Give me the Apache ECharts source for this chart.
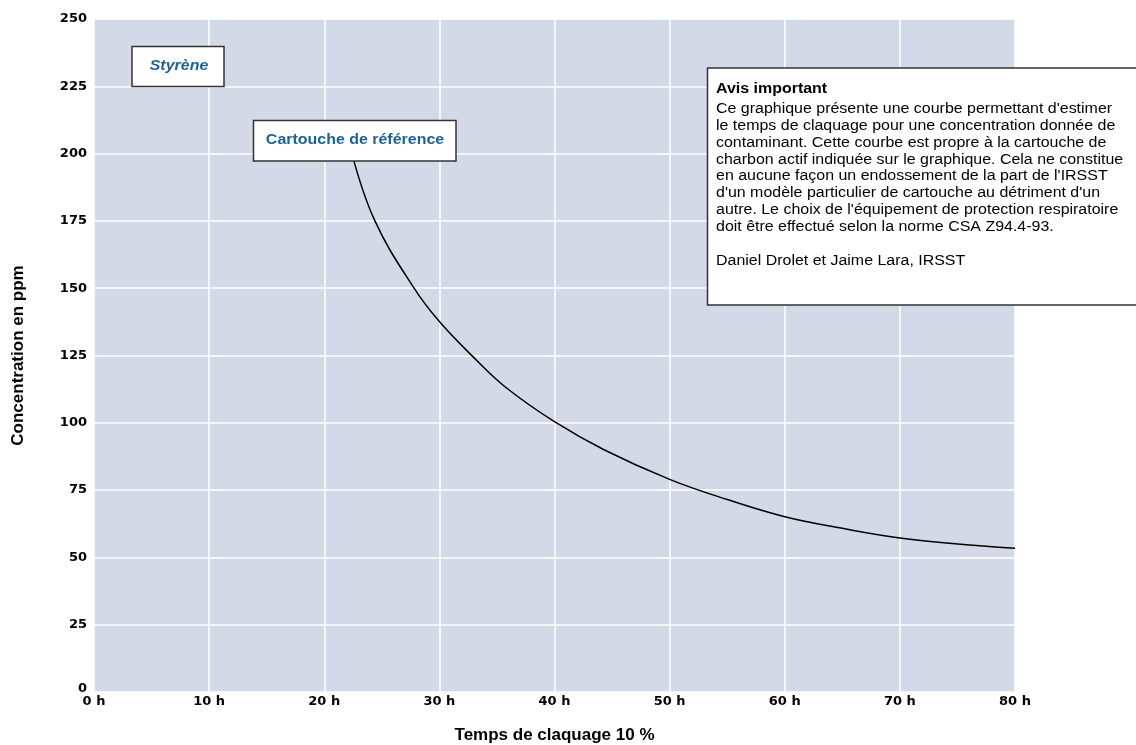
<!DOCTYPE html>
<html>
<head>
<meta charset="utf-8">
<script src="https://cdn.jsdelivr.net/npm/echarts@6/dist/echarts.min.js"></script>
<style>html,body{margin:0;padding:0;background:#fff}#c{width:1136px;height:745px}</style>
</head>
<body>
<div id="c"></div>
<script>
// Data
const hours = [22.4, 24.4, 27.8, 30, 33, 35.7, 40, 44.3, 50, 55, 60, 65, 70, 75, 80];
const ppm   = [200, 175, 150, 137.6, 124.2, 113.4, 100.4, 90, 79, 71.5, 65.1, 60.8, 57.2, 55, 53.4];
const xTickSuffix = ' h';
const xTitle = 'Temps de claquage 10 %';
const yTitle = 'Concentration en ppm';
const labelSubstance = 'Styrène';
const labelCartridge = 'Cartouche de référence';
const noticeTitle = 'Avis important';
const noticeBody = [
  "Ce graphique présente une courbe permettant d'estimer",
  "le temps de claquage pour une concentration donnée de",
  "contaminant. Cette courbe est propre à la cartouche de",
  "charbon actif indiquée sur le graphique. Cela ne constitue",
  "en aucune façon un endossement de la part de l'IRSST",
  "d'un modèle particulier de cartouche au détriment d'un",
  "autre. Le choix de l'équipement de protection respiratoire",
  "doit être effectué selon la norme CSA Z94.4-93.",
  "",
  "Daniel Drolet et Jaime Lara, IRSST"
];

const blue = '#1d6298';
const chart = echarts.init(document.getElementById('c'), null, {renderer: 'canvas'});
const tickFont = {fontFamily: 'DejaVu Sans', fontWeight: 'bold', fontSize: 13, color: '#000'};
chart.setOption({
  animation: false,
  backgroundColor: '#fff',
  grid: {left: 94, right: 121, top: 19, bottom: 53, outerBoundsMode: 'none', containLabel: false,
         show: true, backgroundColor: '#d4d9e7', borderWidth: 0},
  xAxis: {
    type: 'value', min: 0, max: 80, interval: 10,
    name: xTitle, nameLocation: 'middle', nameGap: 35,
    nameTextStyle: {fontFamily: 'Liberation Sans', fontWeight: 'bold', fontSize: 17, color: '#000'},
    axisLine: {show: false}, axisTick: {show: false},
    axisLabel: Object.assign({margin: 3, formatter: v => v + xTickSuffix}, tickFont),
    splitLine: {show: true, lineStyle: {color: '#ffffff', width: 1.5}}
  },
  yAxis: {
    type: 'value', min: 0, max: 250, interval: 25,
    name: yTitle, nameLocation: 'middle', nameGap: 67,
    nameTextStyle: {fontFamily: 'Liberation Sans', fontWeight: 'bold', fontSize: 17, color: '#000'},
    axisLine: {show: false}, axisTick: {show: false},
    axisLabel: Object.assign({margin: 7, formatter: v => v === 0 ? '{z|0}' : String(v),
      rich: {z: {fontFamily: 'DejaVu Sans', fontWeight: 'bold', fontSize: 13, color: '#000', padding: [0, 0, 7, 0]}}}, tickFont),
    splitLine: {show: true, lineStyle: {color: '#ffffff', width: 1.5}}
  },
  series: [{
    type: 'line',
    data: hours.map((h, i) => [h, ppm[i]]),
    smooth: 0.4,
    showSymbol: false,
    lineStyle: {color: '#000', width: 1.5},
    z: 3
  }],
  graphic: [
    {type: 'rect', z: 10, shape: {x: 132, y: 46.5, width: 92, height: 40}, style: {fill: '#fff', stroke: '#333', lineWidth: 1.5}},
    {type: 'text', z: 11, x: 179, y: 66.5, scaleX: 1.14, style: {text: labelSubstance, fill: blue, font: 'italic bold 14px "Liberation Sans"', align: 'center', verticalAlign: 'middle'}},
    {type: 'rect', z: 10, shape: {x: 253.5, y: 120.5, width: 202.5, height: 40.5}, style: {fill: '#fff', stroke: '#333', lineWidth: 1.5}},
    {type: 'text', z: 11, x: 355, y: 140.5, scaleX: 1.14, style: {text: labelCartridge, fill: blue, font: 'bold 14px "Liberation Sans"', align: 'center', verticalAlign: 'middle'}},
    {type: 'rect', z: 10, shape: {x: 707.5, y: 68, width: 450, height: 237}, style: {fill: '#fff', stroke: '#333', lineWidth: 1.5}},
    {type: 'text', z: 11, x: 716, y: 89, scaleX: 1.14, style: {text: noticeTitle, fill: '#000', font: 'bold 14px "Liberation Sans"', align: 'left', verticalAlign: 'middle'}},
    {type: 'text', z: 11, x: 716, y: 100.5, scaleX: 1.14, style: {text: noticeBody.join('\n'), fill: '#000', font: '14px "Liberation Sans"', lineHeight: 16.9, align: 'left', verticalAlign: 'top'}}
  ]
});
</script>
</body>
</html>
